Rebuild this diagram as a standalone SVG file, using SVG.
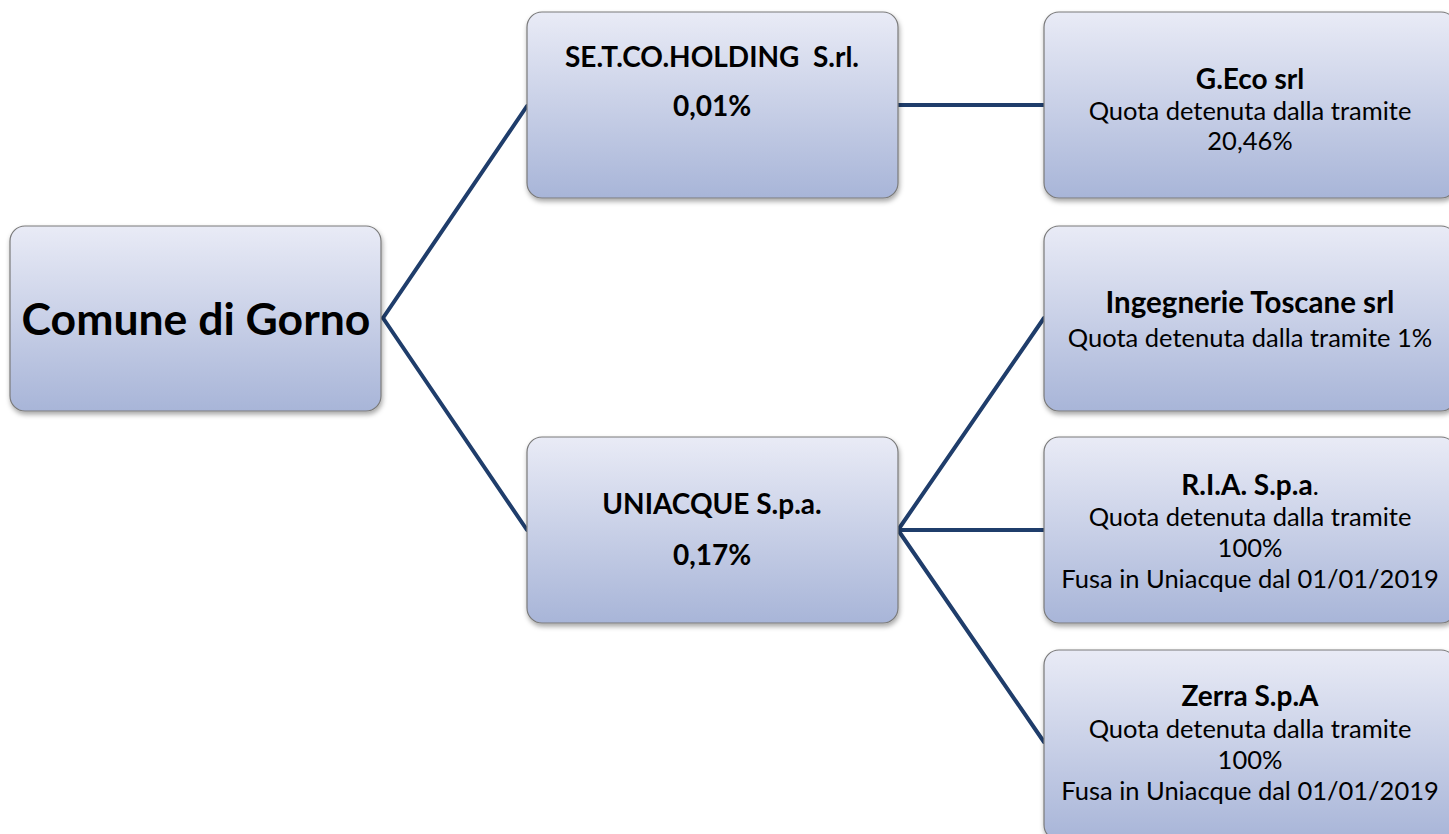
<svg xmlns="http://www.w3.org/2000/svg" width="1449" height="834" viewBox="0 0 1449 834">
<defs>
<linearGradient id="g" x1="0" y1="0" x2="0" y2="1">
<stop offset="0" stop-color="#e9ebf6"/>
<stop offset="1" stop-color="#a8b5d8"/>
</linearGradient>
<filter id="sh" x="-10%" y="-10%" width="120%" height="130%">
<feDropShadow dx="1" dy="3" stdDeviation="2.5" flood-color="#000" flood-opacity="0.35"/>
</filter>
<style>
.box{fill:url(#g);stroke:#7a7a7a;stroke-width:1.2;filter:url(#sh)}
.c{stroke:#1f3d6b;stroke-width:4;fill:none;stroke-linecap:round}
text{font-family:Lato,"Liberation Sans",sans-serif;fill:#000;text-anchor:middle;white-space:pre}
.b{font-weight:bold;font-size:28px}
.t{font-size:25.5px}
</style>
</defs>
<g id="connectors">
<line class="c" x1="383" y1="318" x2="527" y2="106"/>
<line class="c" x1="383" y1="318" x2="527" y2="530"/>
<line class="c" x1="898" y1="105" x2="1044" y2="105"/>
<line class="c" x1="898" y1="530" x2="1044" y2="318"/>
<line class="c" x1="898" y1="530" x2="1044" y2="530"/>
<line class="c" x1="898" y1="530" x2="1044" y2="742"/>
</g>
<g id="comune">
<rect class="box" x="10" y="226" width="371" height="185" rx="15"/>
<text x="196" y="335" font-size="44.5" font-weight="bold">Comune di Gorno</text>
</g>
<g id="setco">
<rect class="box" x="527" y="12" width="371" height="186" rx="15"/>
<text class="b" x="712" y="67" xml:space="preserve">SE.T.CO.HOLDING  S.rl.</text>
<text class="b" x="712" y="116">0,01%</text>
</g>
<g id="uniacque">
<rect class="box" x="527" y="437" width="371" height="186" rx="15"/>
<text class="b" x="712" y="514">UNIACQUE S.p.a.</text>
<text class="b" x="712" y="565">0,17%</text>
</g>
<g id="geco">
<rect class="box" x="1044" y="12" width="412" height="186" rx="15"/>
<text class="b" x="1250" y="89">G.Eco srl</text>
<text class="t" x="1250" y="120">Quota detenuta dalla tramite</text>
<text class="t" x="1250" y="150">20,46%</text>
</g>
<g id="ingegnerie">
<rect class="box" x="1044" y="226" width="412" height="185" rx="15"/>
<text class="b" x="1250" y="313" style="font-size:29.5px">Ingegnerie Toscane srl</text>
<text class="t" x="1250" y="347">Quota detenuta dalla tramite 1%</text>
</g>
<g id="ria">
<rect class="box" x="1044" y="437" width="412" height="186" rx="15"/>
<text class="t" x="1250" y="495"><tspan class="b">R.I.A. S.p.a</tspan>.</text>
<text class="t" x="1250" y="526">Quota detenuta dalla tramite</text>
<text class="t" x="1250" y="557">100%</text>
<text class="t" x="1250" y="588">Fusa in Uniacque dal 01/01/2019</text>
</g>
<g id="zerra">
<rect class="box" x="1044" y="650" width="412" height="190" rx="15"/>
<text class="b" x="1250" y="706">Zerra S.p.A</text>
<text class="t" x="1250" y="738">Quota detenuta dalla tramite</text>
<text class="t" x="1250" y="769">100%</text>
<text class="t" x="1250" y="800">Fusa in Uniacque dal 01/01/2019</text>
</g>
</svg>
